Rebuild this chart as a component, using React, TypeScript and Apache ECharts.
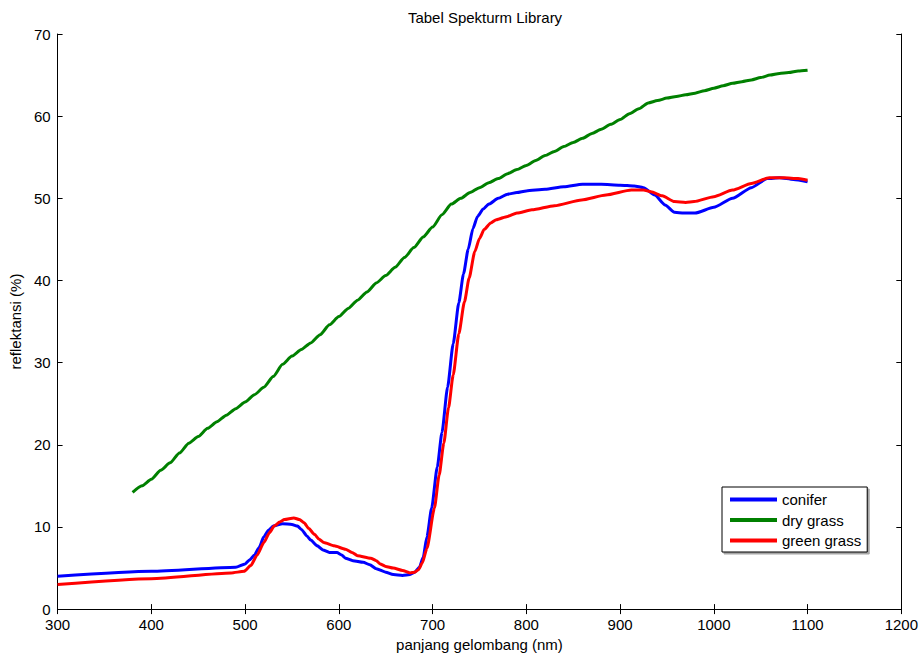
import React, { useEffect, useRef } from "react";
import * as echarts from "echarts";

// Wavelength (nm) / reflectance (%) pairs for each spectrum
const coniferWavelength = [
  300, 400, 490, 500, 505, 510, 515, 520, 525, 530, 540, 550, 556, 560, 566, 570, 577, 583, 590, 598,
  603, 607, 615, 626, 633, 640, 650, 658, 668, 676, 681, 686, 690, 694, 699, 705, 710, 716, 722, 728,
  733, 738, 743, 748, 754, 760, 770, 780, 790, 800, 820, 840, 860, 880, 900, 915, 925, 937, 948,
  958, 968, 980, 1000, 1020, 1040, 1057, 1070, 1085, 1100,
];
const coniferReflectance = [
  4.0, 4.6, 5.1, 5.5, 6.0, 6.6, 7.5, 8.8, 9.6, 10.1, 10.4, 10.3, 10.1, 9.7, 8.9, 8.4, 7.7, 7.2, 6.9, 6.9,
  6.6, 6.2, 5.9, 5.7, 5.4, 4.9, 4.5, 4.2, 4.1, 4.2, 4.5, 5.1, 6.3, 8.8, 12.3, 17.3, 21.5, 27.0, 32.3, 37.3,
  40.8, 43.8, 46.3, 47.8, 48.7, 49.3, 50.0, 50.5, 50.7, 50.9, 51.1, 51.4, 51.7, 51.7, 51.6, 51.5, 51.3, 50.4, 49.2,
  48.3, 48.2, 48.2, 48.9, 50.0, 51.3, 52.4, 52.5, 52.3, 52.0,
];

const dryGrassWavelength = [
  380, 390, 400, 410, 420, 430, 440, 450, 460, 470, 480, 490, 500, 510, 520, 530, 540, 550, 560, 570,
  580, 590, 600, 610, 620, 630, 640, 650, 660, 670, 680, 690, 700, 710, 720, 730, 740, 750, 760, 770,
  780, 790, 800, 810, 820, 830, 840, 850, 860, 870, 880, 890, 900, 910, 920, 930, 940, 950, 960, 970,
  980, 990, 1000, 1010, 1020, 1030, 1040, 1050, 1060, 1070, 1080, 1090, 1100,
];
const dryGrassReflectance = [
  14.2, 15.0, 15.8, 16.9, 17.8, 19.0, 20.2, 21.0, 22.0, 22.8, 23.6, 24.4, 25.2, 26.1, 27.0, 28.3, 29.8, 30.8, 31.6, 32.4,
  33.4, 34.6, 35.6, 36.6, 37.6, 38.6, 39.7, 40.6, 41.6, 42.8, 44.0, 45.3, 46.5, 48.0, 49.3, 50.0, 50.7, 51.3, 51.9, 52.4,
  53.0, 53.5, 54.0, 54.6, 55.2, 55.7, 56.3, 56.8, 57.3, 57.9, 58.4, 59.0, 59.6, 60.3, 60.9, 61.6, 61.9, 62.2, 62.4, 62.6,
  62.8, 63.1, 63.4, 63.7, 64.0, 64.2, 64.4, 64.7, 65.0, 65.2, 65.3, 65.5, 65.6,
];

const greenGrassWavelength = [
  300, 400, 485, 499, 506, 513, 520, 526, 531, 537, 542, 552, 558, 563, 568, 574, 579, 584, 595, 607,
  614, 620, 634, 640, 644, 650, 658, 668, 676, 681, 685, 689, 694, 702, 707, 712, 717, 722, 728, 734,
  739, 745, 750, 755, 762, 768, 780, 790, 806, 830, 859, 885, 912, 925, 933, 945, 958, 970, 979, 1000,
  1020, 1040, 1059, 1075, 1090, 1100,
];
const greenGrassReflectance = [
  3.0, 3.7, 4.4, 4.6, 5.3, 6.6, 8.1, 9.3, 10.1, 10.6, 10.9, 11.1, 10.9, 10.5, 9.8, 9.1, 8.5, 8.1, 7.7, 7.3,
  6.9, 6.5, 6.2, 5.9, 5.5, 5.2, 5.0, 4.7, 4.4, 4.5, 4.8, 5.6, 7.4, 12.3, 16.3, 20.2, 24.5, 28.5, 33.5, 37.4,
  40.3, 43.5, 45.1, 46.2, 47.0, 47.4, 47.8, 48.2, 48.6, 49.1, 49.8, 50.4, 51.0, 51.0, 50.8, 50.3, 49.6, 49.5, 49.6, 50.2,
  51.0, 51.8, 52.5, 52.5, 52.4, 52.2,
];

const seriesNames = ["conifer", "dry grass", "green grass"];
const seriesColors = ["#0000ff", "#008000", "#ff0000"];

const xTicks = { min: 300, max: 1200, interval: 100 };
const yTicks = { min: 0, max: 70, interval: 10 };

const pairs = (xs: number[], ys: number[]) => xs.map((x, i) => [x, ys[i]]);

const FONT = "Liberation Sans, Arial, sans-serif";
const FS = 15;

export default function App() {
  const ref = useRef<HTMLDivElement>(null);

  useEffect(() => {
    if (!ref.current) return;
    const chart = echarts.init(ref.current, undefined, { renderer: "svg" });

    const axisLine = { show: true, lineStyle: { color: "#000", width: 1 } };
    const tick = { show: true, inside: true, length: 5, lineStyle: { color: "#000" } };
    const label = {
      color: "#000",
      fontSize: FS,
      fontFamily: FONT,
      formatter: (v: number) => String(v),
    };
    const nameStyle = { color: "#000", fontSize: FS, fontFamily: FONT };

    const datasets = [
      pairs(coniferWavelength, coniferReflectance),
      pairs(dryGrassWavelength, dryGrassReflectance),
      pairs(greenGrassWavelength, greenGrassReflectance),
    ];

    chart.setOption({
      animation: false,
      backgroundColor: "#fff",
      title: {
        text: "Tabel Spekturm Library",
        left: 480,
        top: 5,
        textAlign: "center",
        textStyle: { color: "#000", fontSize: FS, fontWeight: "normal", fontFamily: FONT },
      },
      grid: { left: 55, right: 16, top: 34, bottom: 43, containLabel: false },
      legend: {
        data: seriesNames,
        orient: "vertical",
        left: 722,
        top: 487,
        icon: "rect",
        itemWidth: 47,
        itemHeight: 4,
        itemGap: 5.5,
        padding: [5, 6, 4, 8],
        borderColor: "#000",
        borderWidth: 1,
        borderRadius: 0,
        backgroundColor: "#fff",
        shadowColor: "rgba(0,0,0,0.35)",
        shadowOffsetX: 2,
        shadowOffsetY: 2,
        shadowBlur: 0,
        textStyle: { color: "#000", fontSize: FS, fontFamily: FONT, lineHeight: 15 },
      },
      xAxis: [
        {
          type: "value",
          ...xTicks,
          position: "bottom",
          name: "panjang gelombang (nm)",
          nameLocation: "middle",
          nameGap: 27,
          nameTextStyle: nameStyle,
          axisLine,
          axisTick: tick,
          axisLabel: { ...label, margin: 8 },
          splitLine: { show: false },
        },
        {
          type: "value",
          ...xTicks,
          position: "top",
          axisLine,
          axisTick: tick,
          axisLabel: { show: false },
          splitLine: { show: false },
        },
      ],
      yAxis: [
        {
          type: "value",
          ...yTicks,
          position: "left",
          name: "reflektansi (%)",
          nameLocation: "middle",
          nameGap: 30,
          nameTextStyle: nameStyle,
          axisLine,
          axisTick: tick,
          axisLabel: { ...label, margin: 7 },
          splitLine: { show: false },
        },
        {
          type: "value",
          ...yTicks,
          position: "right",
          axisLine,
          axisTick: tick,
          axisLabel: { show: false },
          splitLine: { show: false },
        },
      ],
      series: seriesNames.map((name, i) => ({
        name,
        type: "line",
        data: datasets[i],
        showSymbol: false,
        symbol: "none",
        smooth: 0.2,
        smoothMonotone: "x",
        lineStyle: { color: seriesColors[i], width: 3 },
        itemStyle: { color: seriesColors[i] },
        z: 2 + i,
      })),
    });

    return () => chart.dispose();
  }, []);

  return (
    <div
      ref={ref}
      style={{ position: "fixed", left: 0, top: 0, width: 921, height: 657, background: "#fff" }}
    />
  );
}
